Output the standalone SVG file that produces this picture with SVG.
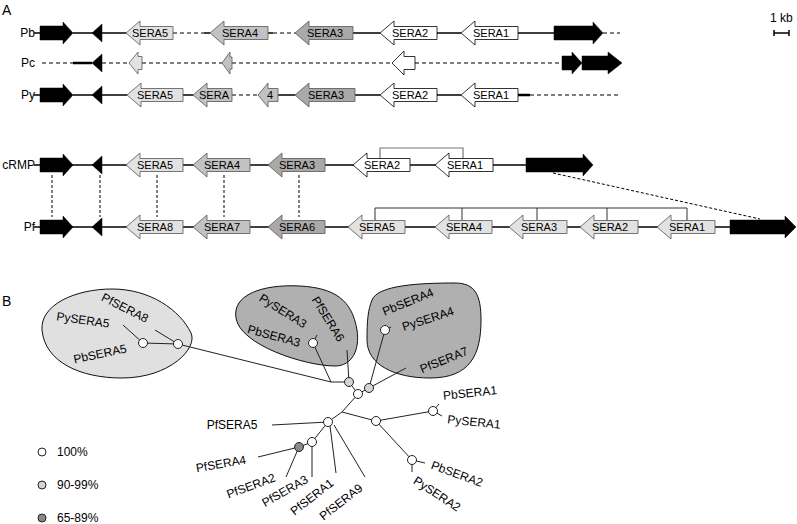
<svg xmlns="http://www.w3.org/2000/svg" width="797" height="524" viewBox="0 0 797 524">
<style>
text{font-family:"Liberation Sans",Arial,sans-serif;fill:#000}
.lbl{font-size:12px}
.g{font-size:11px;text-anchor:middle}
.t{font-size:12px;text-anchor:middle;dominant-baseline:central}
.ln{stroke:#000;stroke-width:1.5;fill:none}
.dl{stroke:#000;stroke-width:1.2;fill:none;stroke-dasharray:4,3}
.vd{stroke:#000;stroke-width:1;fill:none;stroke-dasharray:3,2}
.blk{fill:#000;stroke:#000;stroke-width:0.5}
.w{fill:#fff;stroke:#000;stroke-width:0.8}
.l1{fill:#e2e2e2;stroke:#555;stroke-width:0.8}
.l2{fill:#c2c2c2;stroke:#555;stroke-width:0.8}
.l3{fill:#a9a9a9;stroke:#555;stroke-width:0.8}
.tr{stroke:#222;stroke-width:1;fill:none}
.nw{fill:#fff;stroke:#222;stroke-width:1}
.ng{fill:#d4d4d4;stroke:#222;stroke-width:1}
.nd{fill:#8a8a8a;stroke:#222;stroke-width:1}
</style>
<text x="2" y="15" style="font-size:14px">A</text>
<text x="2" y="306" style="font-size:14px">B</text>
<g id="scale">
<text x="770" y="22" class="lbl">1 kb</text>
<path d="M774,33 H789 M774,30 V36 M789,30 V36" class="ln"/>
</g>
<g id="connectors">
<path d="M34,33 H40 M73,33 H126 M204,33 H210 M268,33 H273 M353,33 H380 M437,33 H461 M518,33 H554" class="ln"/>
<path d="M173,33 H204 M273,33 H295 M603,33 H620" class="dl"/>
<path d="M42,63 H73 M102,63 H129 M142,63 H222 M232,63 H392 M415,63 H562" class="dl"/>
<path d="M73,63 H92" stroke="#000" stroke-width="2.5"/>
<path d="M34,95 H40 M73,95 H127 M183,95 H193 M278,95 H295 M355,95 H380 M437,95 H461" class="ln"/>
<path d="M518,95 H530" stroke="#000" stroke-width="2.5"/>
<path d="M232,95 H258 M530,95 H620" class="dl"/>
<path d="M34,165 H526" class="ln"/>
<path d="M34,227 H730" class="ln"/>
<path d="M380,158.5 V148 H463 V158.5" stroke="#777" stroke-width="1.2" fill="none"/>
<path d="M375,220.5 V208 H687 V220.5 M462,208 V220.5 M537,208 V220.5 M607,208 V220.5" stroke="#333" stroke-width="1" fill="none"/>
<path d="M52,175 V217 M100,175 V217 M157,175 V217 M224,175 V217 M299,175 V217" class="vd"/>
<path d="M553,173 L760,219" class="vd"/>
</g>
<g id="Pb">
<text x="35" y="37" class="lbl" text-anchor="end">Pb</text>
<path d="M40,26 H63 V22 L73,33 L63,44 V40 H40 Z" class="blk"/>
<path d="M92,33 L102,24 V42 Z" class="blk"/>
<path d="M126,33 L140,21 V26.5 H173 V39.5 H140 V45 Z" class="l1"/><text x="150" y="37" class="g">SERA5</text>
<path d="M210,33 L224,21 V26.5 H268 V39.5 H224 V45 Z" class="l2"/><text x="240" y="37" class="g">SERA4</text>
<path d="M295,33 L309,21 V26.5 H353 V39.5 H309 V45 Z" class="l3"/><text x="325" y="37" class="g">SERA3</text>
<path d="M380,33 L394,21 V26.5 H437 V39.5 H394 V45 Z" class="w"/><text x="410" y="37" class="g">SERA2</text>
<path d="M461,33 L475,21 V26.5 H518 V39.5 H475 V45 Z" class="w"/><text x="491" y="37" class="g">SERA1</text>
<path d="M554,26 H593 V22 L603,33 L593,44 V40 H554 Z" class="blk"/>
</g>
<g id="Pc">
<text x="35" y="67" class="lbl" text-anchor="end">Pc</text>
<path d="M92,63 L102,54 V72 Z" class="blk"/>
<path d="M129,63 L138,52 V56.5 H142 V69.5 H138 V74 Z" class="l1"/>
<path d="M222,63 L230,52 V57 H232 V69 H230 V74 Z" class="l2"/>
<path d="M392,63 L404,51 V56.5 H415 V69.5 H404 V75 Z" class="w"/>
<path d="M562,56 H572 V52 L582,63 L572,74 V70 H562 Z" class="blk"/>
<path d="M582,56 H608 V52 L622,63 L608,74 V70 H582 Z" class="blk"/>
</g>
<g id="Py">
<text x="35" y="99" class="lbl" text-anchor="end">Py</text>
<path d="M40,88 H63 V84 L73,95 L63,106 V102 H40 Z" class="blk"/>
<path d="M92,95 L102,86 V104 Z" class="blk"/>
<path d="M127,95 L141,83 V88.5 H183 V101.5 H141 V107 Z" class="l1"/><text x="155" y="99" class="g">SERA5</text>
<path d="M193,95 L207,83 V88.5 H232 V101.5 H207 V107 Z" class="l2"/><text x="214" y="99" class="g">SERA</text>
<path d="M258,95 L268,83 V88.5 H278 V101.5 H268 V107 Z" class="l2"/><text x="270" y="99" class="g">4</text>
<path d="M295,95 L309,83 V88.5 H355 V101.5 H309 V107 Z" class="l3"/><text x="326" y="99" class="g">SERA3</text>
<path d="M380,95 L394,83 V88.5 H437 V101.5 H394 V107 Z" class="w"/><text x="410" y="99" class="g">SERA2</text>
<path d="M461,95 L475,83 V88.5 H518 V101.5 H475 V107 Z" class="w"/><text x="491" y="99" class="g">SERA1</text>
</g>
<g id="cRMP">
<text x="35" y="169" class="lbl" text-anchor="end">cRMP</text>
<path d="M40,158 H63 V154 L73,165 L63,176 V172 H40 Z" class="blk"/>
<path d="M92,165 L102,156 V174 Z" class="blk"/>
<path d="M126,165 L140,153 V158.5 H183 V171.5 H140 V177 Z" class="l1"/><text x="155" y="169" class="g">SERA5</text>
<path d="M193,165 L207,153 V158.5 H250 V171.5 H207 V177 Z" class="l2"/><text x="222" y="169" class="g">SERA4</text>
<path d="M268,165 L282,153 V158.5 H325 V171.5 H282 V177 Z" class="l3"/><text x="297" y="169" class="g">SERA3</text>
<path d="M353,165 L367,153 V158.5 H410 V171.5 H367 V177 Z" class="w"/><text x="382" y="169" class="g">SERA2</text>
<path d="M435,165 L449,153 V158.5 H493 V171.5 H449 V177 Z" class="w"/><text x="465" y="169" class="g">SERA1</text>
<path d="M526,158 H583 V154 L593,165 L583,176 V172 H526 Z" class="blk"/>
</g>
<g id="Pf">
<text x="35" y="231" class="lbl" text-anchor="end">Pf</text>
<path d="M40,220 H63 V216 L73,227 L63,238 V234 H40 Z" class="blk"/>
<path d="M92,227 L102,218 V236 Z" class="blk"/>
<path d="M126,227 L140,215 V220.5 H183 V233.5 H140 V239 Z" class="l1"/><text x="155" y="231" class="g">SERA8</text>
<path d="M193,227 L207,215 V220.5 H250 V233.5 H207 V239 Z" class="l2"/><text x="222" y="231" class="g">SERA7</text>
<path d="M268,227 L282,215 V220.5 H325 V233.5 H282 V239 Z" class="l3"/><text x="297" y="231" class="g">SERA6</text>
<path d="M348,227 L362,215 V220.5 H405 V233.5 H362 V239 Z" class="l1"/><text x="377" y="231" class="g">SERA5</text>
<path d="M435,227 L449,215 V220.5 H492 V233.5 H449 V239 Z" class="l1"/><text x="464" y="231" class="g">SERA4</text>
<path d="M509,227 L523,215 V220.5 H567 V233.5 H523 V239 Z" class="l1"/><text x="539" y="231" class="g">SERA3</text>
<path d="M580,227 L594,215 V220.5 H638 V233.5 H594 V239 Z" class="l1"/><text x="610" y="231" class="g">SERA2</text>
<path d="M657,227 L671,215 V220.5 H715 V233.5 H671 V239 Z" class="l1"/><text x="687" y="231" class="g">SERA1</text>
<path d="M730,220 H785 V216 L796,227 L785,238 V234 H730 Z" class="blk"/>
</g>
<g id="clade5">
<path d="M42,330 C40,305 75,289 112,289 C150,289 180,310 191,333 C198,348 170,378 122,378 C80,378 45,362 42,330 Z" fill="#e0e0e0" stroke="#111" stroke-width="1"/>
</g>
<g id="clade3">
<path d="M236,318 C232,295 262,284 300,286 C335,288 352,300 357,330 C360,350 352,366 335,366 C305,366 240,345 236,318 Z" fill="#b0b0b0" stroke="#111" stroke-width="1"/>
</g>
<g id="clade4">
<path d="M372,300 C378,285 420,283 455,283 C475,283 481,295 481,320 C481,355 470,378 430,378 C395,378 367,365 367,340 C367,320 368,310 372,300 Z" fill="#b0b0b0" stroke="#111" stroke-width="1"/>
</g>
<g id="tree-edges">
<path class="tr" d="M123,325 L143,343 M155,330 L178,344 M143,343 L178,344 M178,344 L331,382 M313,343 L331,382 M331,382 L349,382 M349,382 L347,350 M313,343 L317,335 M349,382 L358,394 M358,394 L369,388 M369,388 L385,330 M385,330 L391,327 M369,388 L406,368 M358,394 L342,412 M342,412 L328,422 M342,412 L376,421 M376,421 L433,411 M433,411 L439,404 M433,411 L442,416 M376,421 L412,460 M412,460 L425,463 M412,460 L412,472 M328,422 L272,425 M328,422 L312,442 M312,442 L299,447 M299,447 L258,457 M299,447 L286,477 M312,442 L312,477 M330,426 L336,473 M334,425 L365,477"/>
</g>
<g id="tree-nodes">
<circle cx="143" cy="343" r="4.5" class="nw"/>
<circle cx="178" cy="344" r="4.5" class="nw"/>
<circle cx="313" cy="343" r="4.5" class="nw"/>
<circle cx="385" cy="330" r="4.5" class="nw"/>
<circle cx="349" cy="382" r="4.5" class="ng"/>
<circle cx="369" cy="388" r="4.5" class="ng"/>
<circle cx="358" cy="394" r="4.5" class="nw"/>
<circle cx="328" cy="422" r="4.5" class="nw"/>
<circle cx="376" cy="421" r="4.5" class="nw"/>
<circle cx="433" cy="411" r="4.5" class="nw"/>
<circle cx="412" cy="460" r="4.5" class="nw"/>
<circle cx="312" cy="442" r="4.5" class="nw"/>
<circle cx="299" cy="447" r="4.5" class="nd"/>
</g>
<g id="tree-labels">
<text class="t" transform="translate(125,308) rotate(27)">PfSERA8</text>
<text class="t" transform="translate(83,320) rotate(8)">PySERA5</text>
<text class="t" transform="translate(100,354) rotate(-12)">PbSERA5</text>
<text class="t" transform="translate(283,311) rotate(32)">PySERA3</text>
<text class="t" transform="translate(328,319) rotate(58)">PfSERA6</text>
<text class="t" transform="translate(274,336) rotate(15)">PbSERA3</text>
<text class="t" transform="translate(408,302) rotate(-22)">PbSERA4</text>
<text class="t" transform="translate(428,319) rotate(-18)">PySERA4</text>
<text class="t" transform="translate(444,360) rotate(-22)">PfSERA7</text>
<text class="t" transform="translate(470,393) rotate(-6)">PbSERA1</text>
<text class="t" transform="translate(474,422) rotate(6)">PySERA1</text>
<text class="t" transform="translate(457,474) rotate(20)">PbSERA2</text>
<text class="t" transform="translate(437,494) rotate(33)">PySERA2</text>
<text class="t" transform="translate(232,425)">PfSERA5</text>
<text class="t" transform="translate(221,464) rotate(-10)">PfSERA4</text>
<text class="t" transform="translate(251,486) rotate(-20)">PfSERA2</text>
<text class="t" transform="translate(285,491) rotate(-30)">PfSERA3</text>
<text class="t" transform="translate(312,497) rotate(-38)">PfSERA1</text>
<text class="t" transform="translate(341,502) rotate(-38)">PfSERA9</text>
</g>
<g id="legend">
<circle cx="42" cy="452" r="4" class="nw"/><text x="57" y="456" class="lbl">100%</text>
<circle cx="42" cy="485" r="4" class="ng"/><text x="57" y="489" class="lbl">90-99%</text>
<circle cx="42" cy="518" r="4" class="nd"/><text x="57" y="522" class="lbl">65-89%</text>
</g>
</svg>
